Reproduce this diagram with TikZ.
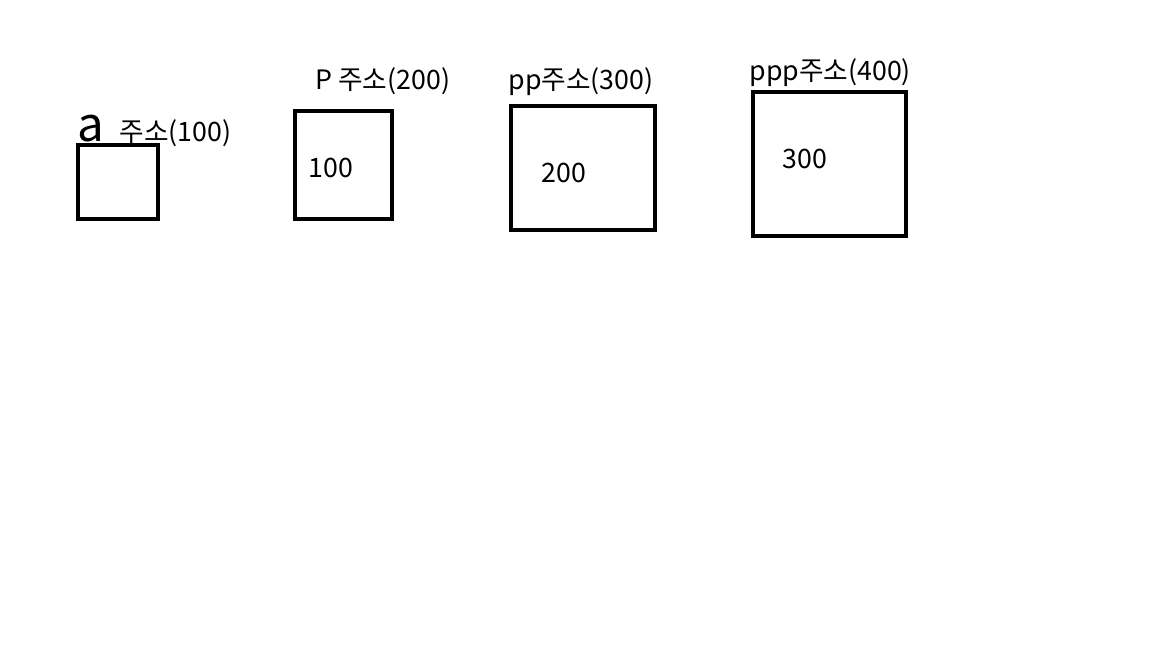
\documentclass[tikz,border=0pt]{standalone}
\usepackage{fontspec}
\setmainfont{Noto Sans CJK KR}
\usetikzlibrary{positioning}

\begin{document}
\begin{tikzpicture}[x=0.01cm,y=-0.01cm,line width=1.4pt,
  caja/.style={draw=black,line width=1.4pt},
  etiq/.style={anchor=base west,inner sep=0pt,font=\fontsize{7.6}{8}\selectfont}]
  \useasboundingbox (0,0) rectangle (1152,648);
  % cajas de memoria
  \draw[caja] (78,145) rectangle (158,219);
  \draw[caja] (295,111) rectangle (392,219);
  \draw[caja] (511,106) rectangle (655,230);
  \draw[caja] (753,92) rectangle (906,236);
  % nombres y direcciones
  \node[etiq,font=\fontsize{13.5}{14}\selectfont] (na) at (75,141) {a};
  \node[etiq] (da) at (117,141) {주소(100)};
  \node[etiq] (dp) at (313,89) {P 주소(200)};
  \node[etiq] (dpp) at (506,89) {pp주소(300)};
  \node[etiq] (dppp) at (747,80) {ppp주소(400)};
  % valores
  \node[etiq] (vp) at (306,177) {100};
  \node[etiq] (vpp) at (539,182) {200};
  \node[etiq] (vppp) at (780,168) {300};
\end{tikzpicture}
\end{document}
